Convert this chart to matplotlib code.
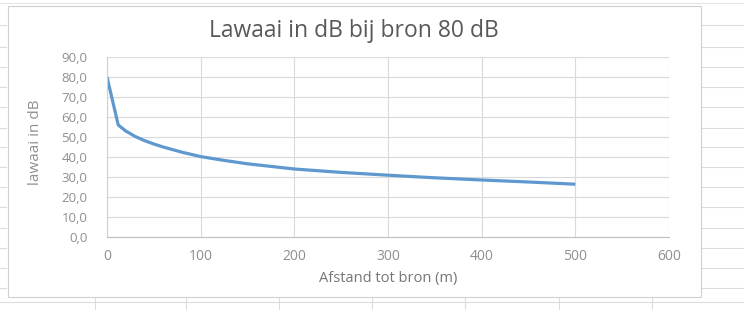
import matplotlib
matplotlib.use("Agg")
import matplotlib.pyplot as plt
from matplotlib.lines import Line2D
from matplotlib.patches import Rectangle

# Data
afstand = [0, 12, 20, 30, 40, 50, 60, 80, 100, 125, 150, 200, 250, 300, 350, 400, 450, 500]
lawaai = [80.0, 56.0, 53.0, 50.3, 48.2, 46.5, 45.0, 42.4, 40.2, 38.3, 36.6, 34.0, 32.3, 30.9, 29.6, 28.5, 27.5, 26.4]
y_ticks = [0, 10, 20, 30, 40, 50, 60, 70, 80, 90]
x_ticks = [0, 100, 200, 300, 400, 500, 600]
title = "Lawaai in dB bij bron 80 dB"
xlabel = "Afstand tot bron (m)"
ylabel = "lawaai in dB"

W, H = 744, 310
plt.rcParams["font.family"] = ["Open Sans", "DejaVu Sans"]
fig = plt.figure(figsize=(W / 100, H / 100), dpi=100)
fig.patch.set_facecolor("white")

def fx(px):
    return px / W

def fy(py):
    return 1 - py / H

cell = "#dcdcdc"
rows = [25, 47, 67, 87, 107, 128, 147, 167, 187, 207, 228, 248, 268, 288]
for py in rows:
    fig.add_artist(Line2D([fx(701), 1], [fy(py), fy(py)], color=cell, lw=0.8, zorder=-3))
    fig.add_artist(Line2D([0, fx(6)], [fy(py), fy(py)], color=cell, lw=0.8, zorder=-3))
fig.add_artist(Line2D([0, 1], [fy(302), fy(302)], color=cell, lw=0.8, zorder=-3))
for px in [95, 186, 279, 372, 465, 559, 652]:
    fig.add_artist(Line2D([fx(px), fx(px)], [fy(297), 0], color=cell, lw=0.8, zorder=-3))
fig.add_artist(Line2D([0, 1], [fy(3), fy(3)], color="#e6e6e6", lw=0.8, zorder=-3))

# chart area
fig.add_artist(Rectangle((fx(8), fy(297)), fx(701) - fx(8), fy(6) - fy(297),
                         transform=fig.transFigure, facecolor="white",
                         edgecolor="#d0d0d0", lw=0.8, zorder=-2))

ax = fig.add_axes([fx(107), fy(237), fx(669) - fx(107), fy(57) - fy(237)])
ax.set_zorder(1)
ax.patch.set_alpha(0)
ax.plot(afstand, lawaai, color="#5f98cf", lw=2.3, solid_capstyle="butt",
        solid_joinstyle="round")
ax.set_xlim(0, 600)
ax.set_ylim(0, 90)
ax.set_xticks(x_ticks)
ax.set_yticks(y_ticks)
ax.set_yticklabels([f"{v:.1f}".replace(".", ",") for v in y_ticks])
ax.set_xticklabels([str(v) for v in x_ticks])
ax.grid(True, color="#d9d9d9", lw=0.8)
ax.set_axisbelow(True)
for s in ["top", "right"]:
    ax.spines[s].set_visible(False)
ax.spines["left"].set_color("#d0d0d0")
ax.spines["bottom"].set_color("#bfbfbf")
ax.tick_params(length=0, colors="#8f8f8f")
ax.tick_params(axis="y", labelsize=9.5, pad=14)
ax.tick_params(axis="x", labelsize=10, pad=9)
ax.set_xlabel(xlabel, fontsize=10.5, color="#757575", labelpad=5)
ax.set_ylabel(ylabel, fontsize=11, color="#909090")
ax.yaxis.set_label_coords(-0.114, 0.528)
fig.text(fx(354), fy(31), title, ha="center", va="center", fontsize=16.5, color="#595959")

fig.savefig("out.png", dpi=100, facecolor="white")
